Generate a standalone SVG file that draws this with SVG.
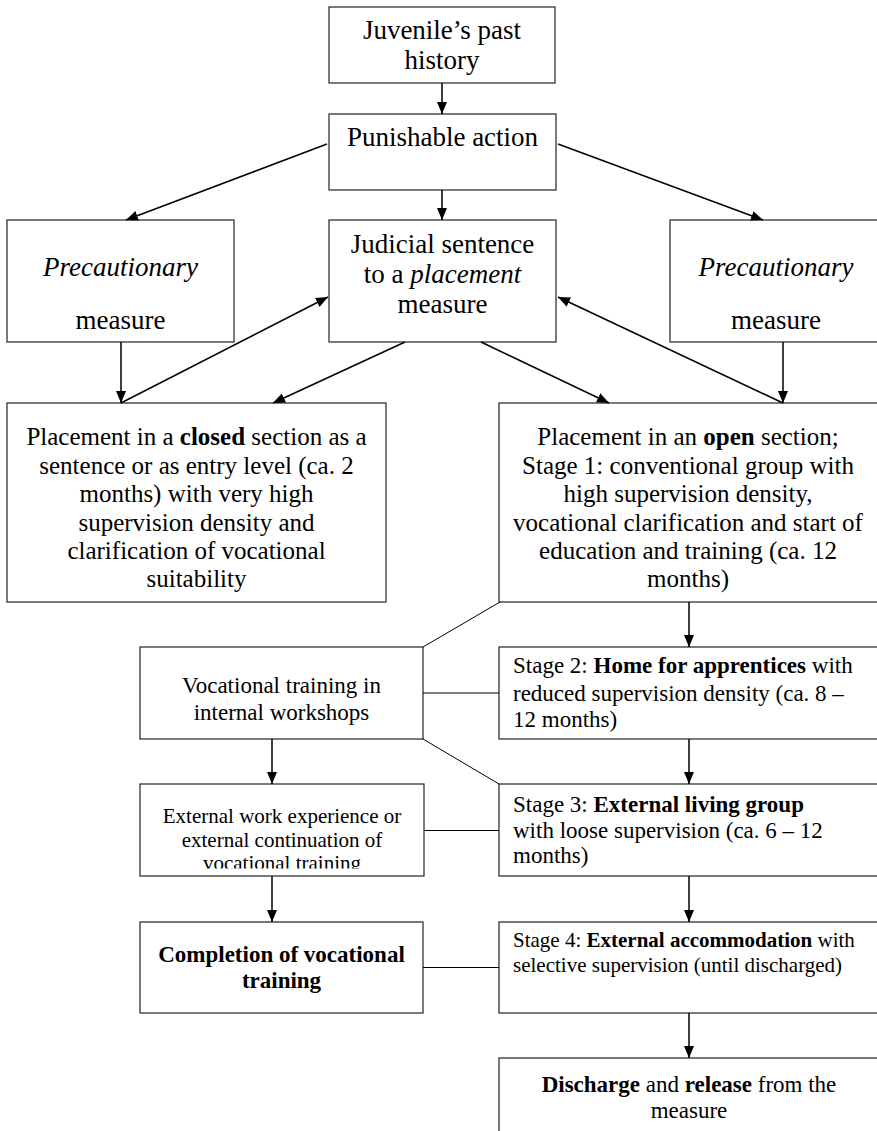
<svg xmlns="http://www.w3.org/2000/svg" width="877" height="1131" viewBox="0 0 877 1131">
<style>
.box{fill:#fff;stroke:#222;stroke-width:1.2}
text{font-family:"Liberation Serif","Times New Roman",serif;fill:#000}
.c{text-anchor:middle}
.s27{font-size:27px}
.s25{font-size:25px}
.s23{font-size:23px}
.s21{font-size:21px}
.b{font-weight:bold}
.i{font-style:italic}
.arr{stroke:#000;stroke-width:1.5;fill:none;marker-end:url(#ah)}
.ln{stroke:#000;stroke-width:1;fill:none}
</style>
<defs>
<marker id="ah" markerUnits="userSpaceOnUse" markerWidth="12" markerHeight="10" refX="12" refY="5" orient="auto">
<path d="M0,0 L12,5 L0,10 z" fill="#000"/>
</marker>
<clipPath id="clipExt"><rect x="140" y="784" width="284" height="84.5"/></clipPath>
</defs>
<rect x="0" y="0" width="877" height="1131" fill="#fff"/>

<g id="juvenile">
<rect class="box" x="329" y="7" width="226" height="76"/>
<text class="c s27" x="442" y="39">Juvenile’s past</text>
<text class="c s27" x="442" y="69">history</text>
</g>

<g id="punishable">
<rect class="box" x="329" y="114" width="227" height="76"/>
<text class="c s27" x="442.5" y="146">Punishable action</text>
</g>

<g id="precautionary-left">
<rect class="box" x="7" y="220" width="227" height="122"/>
<text class="c s27 i" x="120.5" y="276">Precautionary</text>
<text class="c s27" x="120.5" y="329">measure</text>
</g>

<g id="judicial">
<rect class="box" x="329" y="220" width="227" height="122"/>
<text class="c s27" x="442.5" y="253">Judicial sentence</text>
<text class="c s27" x="442.5" y="283">to a <tspan class="i">placement</tspan></text>
<text class="c s27" x="442.5" y="313">measure</text>
</g>

<g id="precautionary-right">
<rect class="box" x="670" y="220" width="212" height="122"/>
<text class="c s27 i" x="776" y="276">Precautionary</text>
<text class="c s27" x="776" y="329">measure</text>
</g>

<g id="closed">
<rect class="box" x="7" y="403" width="379" height="199"/>
<text class="c s25" x="196.5" y="445">Placement in a <tspan class="b">closed</tspan> section as a</text>
<text class="c s25" x="196.5" y="474">sentence or as entry level (ca. 2</text>
<text class="c s25" x="196.5" y="502">months) with very high</text>
<text class="c s25" x="196.5" y="531">supervision density and</text>
<text class="c s25" x="196.5" y="559">clarification of vocational</text>
<text class="c s25" x="196.5" y="587">suitability</text>
</g>

<g id="open">
<rect class="box" x="499" y="403" width="380" height="199"/>
<text class="c s25" x="688" y="445">Placement in an <tspan class="b">open</tspan> section;</text>
<text class="c s25" x="688" y="474">Stage 1: conventional group with</text>
<text class="c s25" x="688" y="502">high supervision density,</text>
<text class="c s25" x="688" y="531">vocational clarification and start of</text>
<text class="c s25" x="688" y="559">education and training (ca. 12</text>
<text class="c s25" x="688" y="587">months)</text>
</g>

<g id="vocational">
<rect class="box" x="140" y="647" width="283" height="92"/>
<text class="c s23" x="281.5" y="693">Vocational training in</text>
<text class="c s23" x="281.5" y="720">internal workshops</text>
</g>

<g id="stage2">
<rect class="box" x="499" y="647" width="380" height="92"/>
<text class="s23" x="513" y="673">Stage 2: <tspan class="b">Home for apprentices</tspan> with</text>
<text class="s23" x="513" y="701">reduced supervision density (ca. 8 –</text>
<text class="s23" x="513" y="727">12 months)</text>
</g>

<g id="external-work">
<rect class="box" x="140" y="784" width="284" height="92"/>
<g clip-path="url(#clipExt)">
<text class="c s21" x="282" y="823">External work experience or</text>
<text class="c s21" x="282" y="846.5">external continuation of</text>
<text class="c s21" x="282" y="870">vocational training</text>
</g>
</g>

<g id="stage3">
<rect class="box" x="499" y="784" width="380" height="92"/>
<text class="s23" x="513" y="812">Stage 3: <tspan class="b">External living group</tspan></text>
<text class="s23" x="513" y="838">with loose supervision (ca. 6 – 12</text>
<text class="s23" x="513" y="863">months)</text>
</g>

<g id="completion">
<rect class="box" x="140" y="922" width="283" height="91"/>
<text class="c s23 b" x="281.5" y="962">Completion of vocational</text>
<text class="c s23 b" x="281.5" y="988">training</text>
</g>

<g id="stage4">
<rect class="box" x="499" y="922" width="380" height="91"/>
<text class="s21" x="513" y="947">Stage 4: <tspan class="b">External accommodation</tspan> with</text>
<text class="s21" x="513" y="972">selective supervision (until discharged)</text>
</g>

<g id="discharge">
<rect class="box" x="499" y="1058" width="380" height="90"/>
<text class="c s23" x="689" y="1092"><tspan class="b">Discharge</tspan> and <tspan class="b">release</tspan> from the</text>
<text class="c s23" x="689" y="1118">measure</text>
</g>

<g id="connectors">
<line class="arr" x1="442" y1="83" x2="442" y2="114"/>
<line class="arr" x1="327" y1="144" x2="126" y2="220"/>
<line class="arr" x1="442" y1="190" x2="442" y2="220"/>
<line class="arr" x1="558" y1="144" x2="763" y2="220"/>
<line class="arr" x1="121" y1="342" x2="121" y2="403"/>
<line class="arr" x1="121" y1="403" x2="328" y2="297"/>
<line class="arr" x1="405" y1="342" x2="273" y2="403"/>
<line class="arr" x1="481" y1="342" x2="609" y2="403"/>
<line class="arr" x1="783" y1="403" x2="558" y2="297"/>
<line class="arr" x1="783" y1="342" x2="783" y2="403"/>
<line class="ln" x1="500" y1="602" x2="423" y2="647"/>
<line class="arr" x1="689" y1="602" x2="689" y2="647"/>
<line class="ln" x1="423" y1="693" x2="499" y2="693"/>
<line class="arr" x1="272" y1="739" x2="272" y2="784"/>
<line class="ln" x1="423" y1="739" x2="499" y2="784"/>
<line class="arr" x1="689" y1="739" x2="689" y2="784"/>
<line class="ln" x1="424" y1="830.5" x2="499" y2="830.5"/>
<line class="arr" x1="272" y1="876" x2="272" y2="922"/>
<line class="arr" x1="689" y1="876" x2="689" y2="922"/>
<line class="ln" x1="423" y1="967.5" x2="499" y2="967.5"/>
<line class="arr" x1="689" y1="1013" x2="689" y2="1058"/>
</g>
</svg>
